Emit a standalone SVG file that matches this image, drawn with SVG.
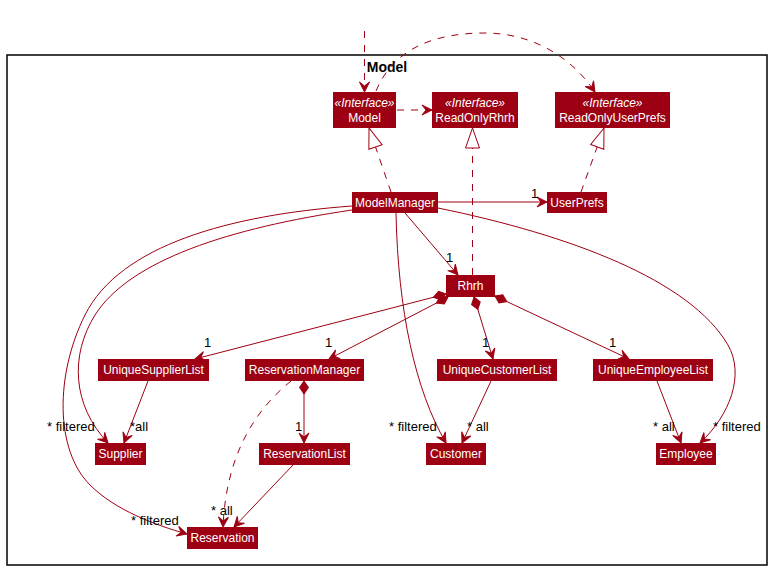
<svg xmlns="http://www.w3.org/2000/svg" width="772" height="571" viewBox="0 0 772 571">
  <style>
    .box { fill: #9D0012; stroke: none; }
    .name { font-family: "Liberation Sans", Arial, sans-serif; font-size: 12px; fill: #FFFFFF; text-anchor: middle; }
    .stereo { font-family: "Liberation Sans", Arial, sans-serif; font-size: 12px; font-style: italic; fill: #FFFFFF; text-anchor: middle; }
    .lbl { font-family: "Liberation Sans", Arial, sans-serif; font-size: 13px; fill: #000000; }
    .title { font-family: "Liberation Sans", Arial, sans-serif; font-size: 14px; font-weight: bold; fill: #000000; text-anchor: middle; }
    .edge { fill: none; stroke: #9D0012; stroke-width: 1; }
    .dash { stroke-dasharray: 7,7; }
  </style>
  <defs>
    <marker id="arrow" markerUnits="userSpaceOnUse" orient="auto" overflow="visible" markerWidth="12" markerHeight="12" refX="0" refY="0">
      <path d="M0,0 L-10,-5 L-6,0 L-10,5 Z" fill="#9D0012" stroke="#9D0012" stroke-width="1" stroke-dasharray="none"/>
    </marker>
    <marker id="realize" markerUnits="userSpaceOnUse" orient="auto" overflow="visible" markerWidth="22" markerHeight="16" refX="0" refY="0">
      <path d="M0,0 L-20,-7 L-20,7 Z" fill="#FFFFFF" stroke="#9D0012" stroke-width="1" stroke-dasharray="none"/>
    </marker>
    <marker id="diamond" markerUnits="userSpaceOnUse" orient="auto" overflow="visible" markerWidth="14" markerHeight="10" refX="0" refY="0">
      <path d="M0,0 L6.5,-4.5 L13,0 L6.5,4.5 Z" fill="#9D0012" stroke="#9D0012" stroke-width="1" stroke-dasharray="none"/>
    </marker>
  </defs>

  <rect width="772" height="571" fill="#FFFFFF"/>

  <!-- package frame -->
  <g id="package-model">
    <rect x="7" y="55" width="760" height="510" fill="none" stroke="#000000" stroke-width="1.5"/>
    <text class="title" x="387" y="72">Model</text>
  </g>

  <g id="connectors">
    <!-- incoming dependency into Model -->
    <path class="edge dash" d="M364.5,31 L364.5,92" marker-end="url(#arrow)"/>
    <!-- Model ..> ReadOnlyUserPrefs -->
    <path class="edge dash" d="M376,91 C395,45 440,33 485,33 C530,33 570,55 595,92" marker-end="url(#arrow)"/>
    <!-- Model ..> ReadOnlyRhrh -->
    <path class="edge dash" d="M397,110 L432,110" marker-end="url(#arrow)"/>
    <!-- realizations -->
    <path class="edge dash" d="M391,192 L369,128" marker-end="url(#realize)"/>
    <path class="edge dash" d="M472.5,275 L472.5,128" marker-end="url(#realize)"/>
    <path class="edge dash" d="M581,192 L604,128" marker-end="url(#realize)"/>
    <!-- ModelManager associations -->
    <path class="edge" d="M438,202 L547,202" marker-end="url(#arrow)"/>
    <path class="edge" d="M405,213 L458,275" marker-end="url(#arrow)"/>
    <path class="edge" d="M396,213 C398,310 415,390 446,443" marker-end="url(#arrow)"/>
    <path class="edge" d="M438,208 C570,235 690,280 728,345 C745,375 730,415 700,443" marker-end="url(#arrow)"/>
    <path class="edge" d="M352,210 C230,228 130,260 95,315 C70,355 72,405 108,443" marker-end="url(#arrow)"/>
    <path class="edge" d="M352,206 C230,215 120,245 85,315 C55,375 55,450 90,485 C115,510 155,525 187,534" marker-end="url(#arrow)"/>
    <!-- Rhrh compositions -->
    <path class="edge" d="M446,294 L195,359" marker-start="url(#diamond)" marker-end="url(#arrow)"/>
    <path class="edge" d="M448,297 L329,359" marker-start="url(#diamond)" marker-end="url(#arrow)"/>
    <path class="edge" d="M474,297 L493,359" marker-start="url(#diamond)" marker-end="url(#arrow)"/>
    <path class="edge" d="M495,296 L629,359" marker-start="url(#diamond)" marker-end="url(#arrow)"/>
    <!-- list contents -->
    <path class="edge" d="M148,381 L124,443" marker-end="url(#arrow)"/>
    <path class="edge" d="M304,381 L304,443" marker-start="url(#diamond)" marker-end="url(#arrow)"/>
    <path class="edge dash" d="M291,381 C255,410 226,455 223,527" marker-end="url(#arrow)"/>
    <path class="edge" d="M293,465 L234,527" marker-end="url(#arrow)"/>
    <path class="edge" d="M491,381 L462,443" marker-end="url(#arrow)"/>
    <path class="edge" d="M657,381 L681,443" marker-end="url(#arrow)"/>

    <!-- multiplicities -->
    <text class="lbl" x="531" y="198">1</text>
    <text class="lbl" x="446" y="262">1</text>
    <text class="lbl" x="204" y="347">1</text>
    <text class="lbl" x="325" y="347">1</text>
    <text class="lbl" x="482" y="347">1</text>
    <text class="lbl" x="609" y="347">1</text>
    <text class="lbl" x="295" y="431">1</text>
    <text class="lbl" x="47" y="431">* filtered</text>
    <text class="lbl" x="130" y="431">*all</text>
    <text class="lbl" x="389" y="431">* filtered</text>
    <text class="lbl" x="467" y="431">* all</text>
    <text class="lbl" x="653" y="431">* all</text>
    <text class="lbl" x="713" y="431">* filtered</text>
    <text class="lbl" x="211" y="515">* all</text>
    <text class="lbl" x="131" y="525">* filtered</text>
  </g>

  <g id="Model">
    <rect class="box" x="333" y="92" width="63" height="36"/>
    <text class="stereo" x="364.5" y="107">«Interface»</text>
    <text class="name" x="364.5" y="122">Model</text>
  </g>
  <g id="ReadOnlyRhrh">
    <rect class="box" x="432" y="92" width="86" height="36"/>
    <text class="stereo" x="475" y="107">«Interface»</text>
    <text class="name" x="475" y="122">ReadOnlyRhrh</text>
  </g>
  <g id="ReadOnlyUserPrefs">
    <rect class="box" x="555" y="92" width="115" height="36"/>
    <text class="stereo" x="612.5" y="107">«Interface»</text>
    <text class="name" x="612.5" y="122">ReadOnlyUserPrefs</text>
  </g>
  <g id="ModelManager">
    <rect class="box" x="352" y="192" width="86" height="21"/>
    <text class="name" x="395" y="207">ModelManager</text>
  </g>
  <g id="UserPrefs">
    <rect class="box" x="547" y="192" width="60" height="21"/>
    <text class="name" x="577" y="207">UserPrefs</text>
  </g>
  <g id="Rhrh">
    <rect class="box" x="446" y="275" width="49" height="22"/>
    <text class="name" x="470.5" y="290">Rhrh</text>
  </g>
  <g id="UniqueSupplierList">
    <rect class="box" x="98" y="359" width="111" height="22"/>
    <text class="name" x="153.5" y="374">UniqueSupplierList</text>
  </g>
  <g id="ReservationManager">
    <rect class="box" x="245" y="359" width="119" height="22"/>
    <text class="name" x="304.5" y="374">ReservationManager</text>
  </g>
  <g id="UniqueCustomerList">
    <rect class="box" x="437" y="359" width="120" height="22"/>
    <text class="name" x="497" y="374">UniqueCustomerList</text>
  </g>
  <g id="UniqueEmployeeList">
    <rect class="box" x="593" y="359" width="120" height="22"/>
    <text class="name" x="653" y="374">UniqueEmployeeList</text>
  </g>
  <g id="Supplier">
    <rect class="box" x="95" y="443" width="51" height="22"/>
    <text class="name" x="120.5" y="458">Supplier</text>
  </g>
  <g id="ReservationList">
    <rect class="box" x="259" y="443" width="91" height="22"/>
    <text class="name" x="304.5" y="458">ReservationList</text>
  </g>
  <g id="Customer">
    <rect class="box" x="426" y="443" width="60" height="22"/>
    <text class="name" x="456" y="458">Customer</text>
  </g>
  <g id="Employee">
    <rect class="box" x="656" y="443" width="60" height="22"/>
    <text class="name" x="686" y="458">Employee</text>
  </g>
  <g id="Reservation">
    <rect class="box" x="187" y="527" width="71" height="22"/>
    <text class="name" x="222.5" y="542">Reservation</text>
  </g>
</svg>
